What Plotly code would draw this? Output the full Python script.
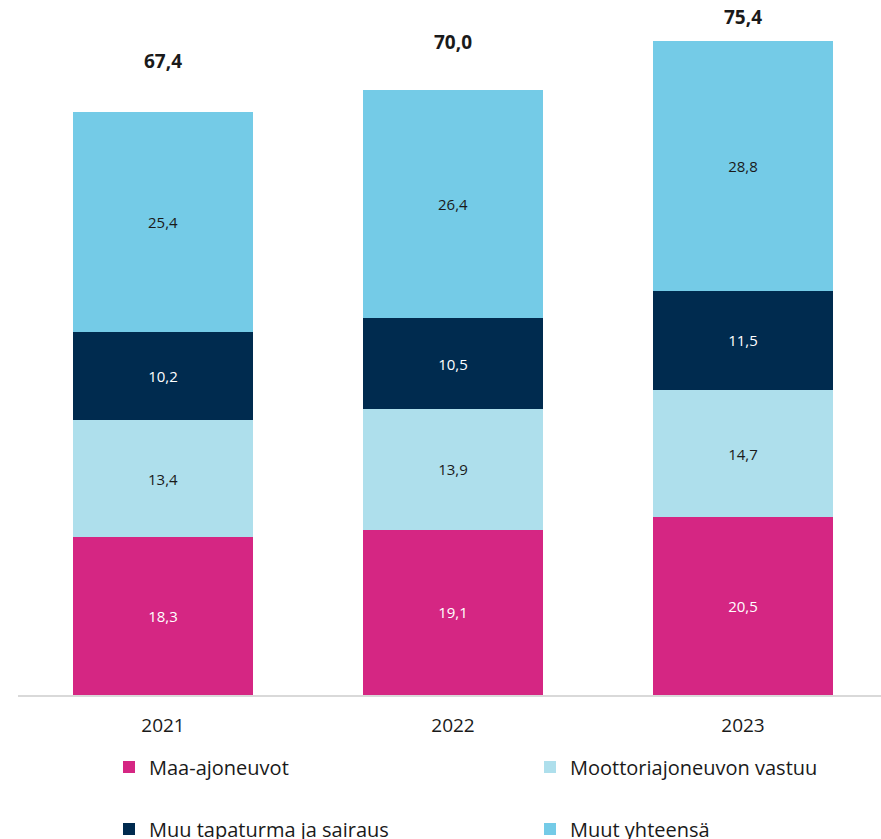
import plotly.graph_objects as go

# Vakuutusmaksutulo lajeittain (milj. euroa)
years = ["2021", "2022", "2023"]
maa_ajoneuvot = [18.3, 19.1, 20.5]
moottoriajoneuvon_vastuu = [13.4, 13.9, 14.7]
muu_tapaturma = [10.2, 10.5, 11.5]
muut_yhteensa = [25.4, 26.4, 28.8]
totals = [67.4, 70.0, 75.4]

series = [
    ("Maa-ajoneuvot", maa_ajoneuvot, "#D52683", "white", "legend"),
    ("Moottoriajoneuvon vastuu", moottoriajoneuvon_vastuu, "#AEDFEC", "#1a1a1a", "legend2"),
    ("Muu tapaturma ja sairaus", muu_tapaturma, "#002B4F", "white", "legend3"),
    ("Muut yhteensä", muut_yhteensa, "#74CBE7", "#1a1a1a", "legend4"),
]

FONT = "Open Sans, Noto Sans, sans-serif"

fig = go.Figure()
for name, vals, color, tcolor, leg in series:
    fig.add_trace(go.Bar(
        name=name,
        x=years,
        y=vals,
        marker=dict(color=color, line=dict(width=0)),
        texttemplate="%{y:.1f}",
        textposition="inside",
        insidetextanchor="middle",
        textfont=dict(family=FONT, size=15, color=tcolor),
        legend=leg,
        showlegend=True,
        hoverinfo="skip",
    ))

# Yhteissummat pylväiden yläpuolelle
label_shift = [50, 47, 25]
for i, (tot, sh) in enumerate(zip(totals, label_shift)):
    fig.add_annotation(
        x=i, y=tot, yshift=sh,
        text="<b>" + f"{tot:.1f}".replace(".", ",") + "</b>",
        showarrow=False, yanchor="middle",
        font=dict(family=FONT, size=19, color="#1a1a1a"),
    )

W, H = 881, 839
ml, mb = 18, 144
plot_h = H - mb
px_per_cat = 290
plot_w = W - ml

def legend_box(xpx, ypx):
    return dict(
        x=xpx / W, xref="container", xanchor="left",
        y=1 - ypx / H, yref="container", yanchor="middle",
        orientation="h", bgcolor="rgba(0,0,0,0)",
        font=dict(family=FONT, size=20, color="#1a1a1a"),
        itemclick=False, itemdoubleclick=False,
    )

fig.update_layout(
    width=W, height=H,
    margin=dict(l=ml, r=0, t=0, b=mb, autoexpand=False),
    paper_bgcolor="white", plot_bgcolor="white",
    barmode="stack", bargap=0.376,
    separators=", ",
    showlegend=True,
    font=dict(family=FONT, color="#1a1a1a"),
    legend=legend_box(109, 767),
    legend2=legend_box(530, 767),
    legend3=legend_box(109, 829),
    legend4=legend_box(530, 829),
    xaxis=dict(
        type="category",
        range=[-0.5, -0.5 + plot_w / px_per_cat],
        showline=True, linecolor="#D9D9D9", linewidth=2,
        ticks="", showgrid=False, ticklabelstandoff=12,
        tickfont=dict(family=FONT, size=19, color="#1a1a1a"),
    ),
    yaxis=dict(
        range=[0, plot_h / 8.66],
        visible=False, showgrid=False, zeroline=False,
    ),
)

fig.write_html("out.html")
